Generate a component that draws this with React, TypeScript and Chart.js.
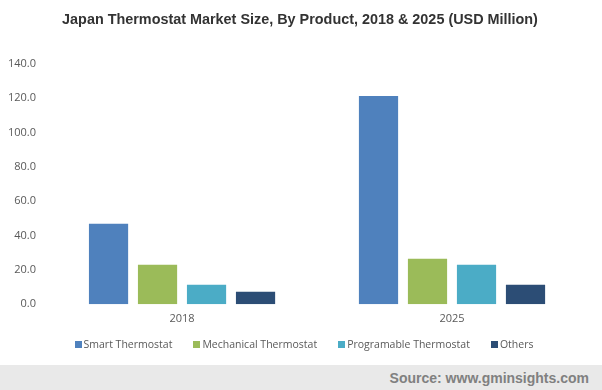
import React, { useEffect, useRef } from "react";
import { Chart, registerables } from "chart.js";

Chart.register(...registerables);

const categories = ["2018", "2025"];
const seriesNames = ["Smart Thermostat", "Mechanical Thermostat", "Programable Thermostat", "Others"];
const smartValues = [47.0, 121.3];
const mechanicalValues = [23.1, 26.6];
const programableValues = [11.4, 23.1];
const othersValues = [7.3, 11.4];
const seriesColors = ["#4f81bd", "#9bbb59", "#4bacc6", "#2c4d75"];
const titleText = "Japan Thermostat Market Size, By Product, 2018 & 2025 (USD Million)";
const sourceText = "Source: www.gminsights.com";

export default function App() {
  const canvasRef = useRef<HTMLCanvasElement | null>(null);

  useEffect(() => {
    document.body.style.margin = "0";
    const allValues = [smartValues, mechanicalValues, programableValues, othersValues];
    const chart = new Chart(canvasRef.current as HTMLCanvasElement, {
      type: "bar",
      data: {
        labels: categories,
        datasets: seriesNames.map((name, i) => ({
          label: name,
          data: allValues[i],
          backgroundColor: seriesColors[i],
          borderWidth: 0,
          categoryPercentage: 0.726,
          barPercentage: 0.8,
        })),
      },
      options: {
        animation: false,
        responsive: false,
        maintainAspectRatio: false,
        layout: { padding: { left: -3, right: 15, top: 64, bottom: 31.5 } },
        plugins: {
          legend: { display: false },
          tooltip: { enabled: false },
          title: { display: false },
        },
        scales: {
          x: {
            grid: { display: false, drawTicks: false },
            border: { display: false },
            ticks: {
              color: "#595959",
              font: { family: "'Open Sans', sans-serif", size: 11 },
              padding: 8,
            },
          },
          y: {
            min: 0,
            max: 140,
            grid: { display: false, drawTicks: false },
            border: { display: false },
            ticks: {
              stepSize: 20,
              color: "#595959",
              font: { family: "'Open Sans', sans-serif", size: 11 },
              padding: 11,
              callback: (v: any) => Number(v).toFixed(1),
            },
          },
        },
      },
    });
    return () => chart.destroy();
  }, []);

  return (
    <div style={{ position: "fixed", left: 0, top: 0, width: 602, height: 390, background: "#fff", overflow: "hidden" }}>
      <canvas ref={canvasRef} width={602} height={365} style={{ position: "absolute", left: 0, top: 0, width: 602, height: 365 }} />
      <div
        style={{
          position: "absolute",
          left: 0,
          top: 10,
          width: 600,
          height: 18,
          lineHeight: "18px",
          textAlign: "center",
          fontFamily: "'Liberation Sans', Arial, sans-serif",
          fontWeight: "bold",
          fontSize: 14.4,
          color: "#333333",
          whiteSpace: "nowrap",
        }}
      >
        {titleText}
      </div>
      <div
        style={{
          position: "absolute",
          left: 0,
          top: 336,
          width: 602,
          height: 16,
          display: "flex",
          justifyContent: "center",
          alignItems: "center",
          paddingLeft: 6,
          boxSizing: "border-box",
          fontFamily: "'Open Sans', sans-serif",
          fontSize: 10.5,
          color: "#595959",
        }}
      >
        {seriesNames.map((name, i) => (
          <div key={name} style={{ display: "flex", alignItems: "center", marginRight: i < seriesNames.length - 1 ? 21 : 0 }}>
            <span style={{ display: "inline-block", width: 7, height: 7, background: seriesColors[i], marginRight: 2 }} />
            <span>{name}</span>
          </div>
        ))}
      </div>
      <div
        style={{
          position: "absolute",
          left: 0,
          top: 365,
          width: 602,
          height: 25,
          background: "#e9e9e9",
          boxSizing: "border-box",
          paddingRight: 13,
          display: "flex",
          justifyContent: "flex-end",
          alignItems: "center",
          fontFamily: "'Liberation Sans', Arial, sans-serif",
          fontWeight: "bold",
          fontSize: 14,
          color: "#808080",
        }}
      >
        {sourceText}
      </div>
    </div>
  );
}
